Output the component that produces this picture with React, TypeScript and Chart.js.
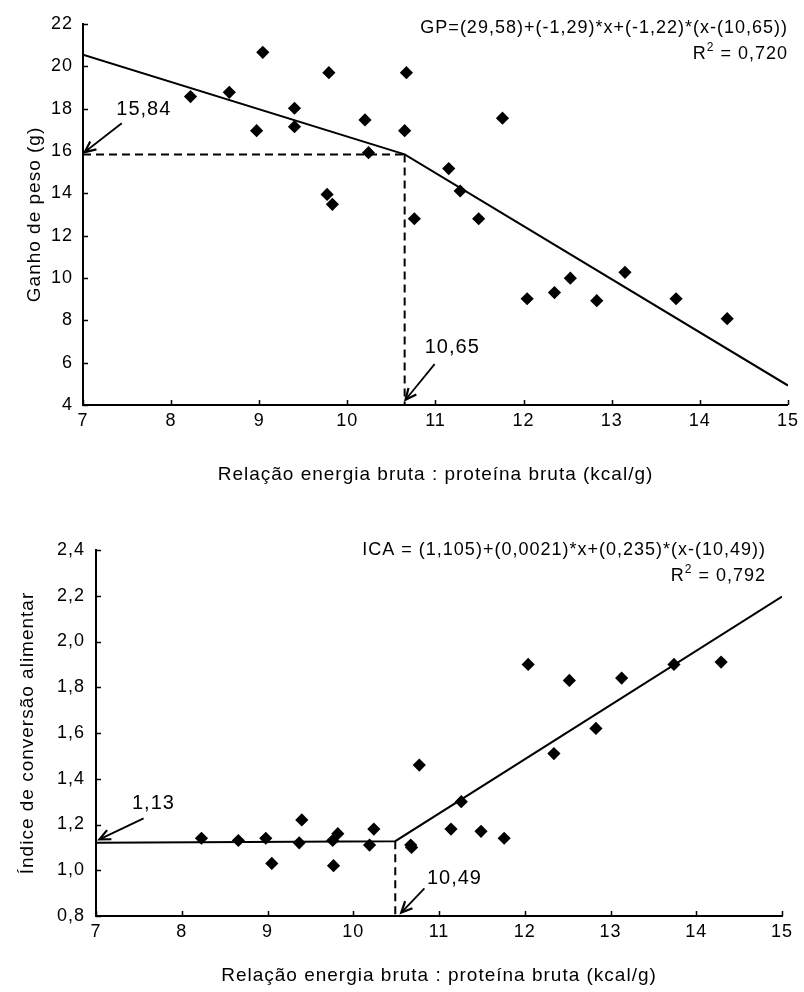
import React, { useEffect, useRef } from 'react';
import { Chart, registerables } from 'chart.js';

Chart.register(...registerables);

const FONT = "'Liberation Sans', Arial, sans-serif";
const LS = '1px';

// ---------- Top chart: Ganho de peso ----------
const gpX = [8.22, 8.66, 9.04, 8.97, 9.4, 9.4, 9.79, 9.77, 9.83, 10.2, 10.24, 10.67, 10.65, 11.76, 11.15, 11.28, 10.76, 11.49, 12.04, 12.35, 12.53, 12.83, 13.15, 13.73, 14.31];
const gpY = [18.57, 18.77, 20.66, 16.96, 18.02, 17.15, 19.7, 13.95, 13.48, 17.47, 15.92, 19.7, 16.96, 17.55, 15.17, 14.11, 12.8, 12.8, 9.02, 9.31, 9.99, 8.93, 10.27, 9.02, 8.08];
const gpFitX = [7, 10.65, 15];
const gpFitY = [20.55, 15.84, 4.92];
const gpBreakX = 10.65;
const gpBreakY = 15.84;
const gpYMin = 4;
const gpYMax = 22;
const gpYStep = 2;
const gpEquation = 'GP=(29,58)+(-1,29)*x+(-1,22)*(x-(10,65))';
const gpR2 = '0,720';
const gpYTitle = 'Ganho de peso (g)';

// ---------- Bottom chart: Índice de conversão alimentar ----------
const icaX = [8.23, 8.66, 8.98, 9.05, 9.4, 9.37, 9.76, 9.82, 9.77, 10.24, 10.19, 10.67, 10.68, 10.77, 11.14, 11.26, 11.49, 11.76, 12.04, 12.34, 12.52, 12.83, 13.13, 13.74, 14.29];
const icaY = [1.14, 1.13, 1.14, 1.03, 1.22, 1.12, 1.13, 1.16, 1.02, 1.18, 1.11, 1.11, 1.1, 1.46, 1.18, 1.3, 1.17, 1.14, 1.9, 1.51, 1.83, 1.62, 1.84, 1.9, 1.91];
const icaFitX = [7, 10.49, 15];
const icaFitY = [1.12, 1.127, 2.196];
const icaBreakX = 10.49;
const icaBreakY = 1.127;
const icaYMin = 0.8;
const icaYMax = 2.4;
const icaYStep = 0.2;
const icaEquation = 'ICA = (1,105)+(0,0021)*x+(0,235)*(x-(10,49))';
const icaR2 = '0,792';
const icaYTitle = 'Índice de conversão alimentar';

// ---------- shared x axis ----------
const xMin = 7;
const xMax = 15;
const xStep = 1;
const xTitle = 'Relação energia bruta : proteína bruta (kcal/g)';

const fmtComma = (v: number, d: number) => v.toFixed(d).replace('.', ',');

const decorPlugin = {
  id: 'decor',
  beforeUpdate(chart: any) {
    chart.ctx.letterSpacing = LS;
  },
  beforeDraw(chart: any) {
    chart.ctx.letterSpacing = LS;
  },
  afterDraw(chart: any, _args: any, opts: any) {
    const { ctx, chartArea } = chart;
    const xs = chart.scales.x;
    const ys = chart.scales.y;
    ctx.save();
    ctx.letterSpacing = LS;
    ctx.strokeStyle = '#000';
    ctx.fillStyle = '#000';
    ctx.setLineDash([]);
    // inward tick marks
    ctx.lineWidth = 1.5;
    ctx.beginPath();
    xs.ticks.forEach((t: any) => {
      const px = Math.round(xs.getPixelForValue(t.value)) + 0.5;
      ctx.moveTo(px, chartArea.bottom);
      ctx.lineTo(px, chartArea.bottom - 5);
    });
    ys.ticks.forEach((t: any) => {
      const py = Math.round(ys.getPixelForValue(t.value)) + 0.5;
      ctx.moveTo(chartArea.left, py);
      ctx.lineTo(chartArea.left + 5, py);
    });
    ctx.stroke();

    // arrows
    (opts.arrows || []).forEach((a: any) => {
      const x1 = xs.getPixelForValue(a.from[0]);
      const y1 = ys.getPixelForValue(a.from[1]);
      const x2 = xs.getPixelForValue(a.to[0]);
      const y2 = ys.getPixelForValue(a.to[1]);
      const ang = Math.atan2(y2 - y1, x2 - x1);
      const L = 12;
      const th = (25 * Math.PI) / 180;
      ctx.lineWidth = 1.8;
      ctx.beginPath();
      ctx.moveTo(x1, y1);
      ctx.lineTo(x2, y2);
      ctx.stroke();
      ctx.lineWidth = 2.2;
      ctx.beginPath();
      ctx.moveTo(x2 - L * Math.cos(ang - th), y2 - L * Math.sin(ang - th));
      ctx.lineTo(x2, y2);
      ctx.lineTo(x2 - L * Math.cos(ang + th), y2 - L * Math.sin(ang + th));
      ctx.stroke();
    });

    // annotation labels
    ctx.font = `20px ${FONT}`;
    ctx.textAlign = 'center';
    ctx.textBaseline = 'middle';
    (opts.labels || []).forEach((l: any) => {
      ctx.fillText(l.text, xs.getPixelForValue(l.x), ys.getPixelForValue(l.y));
    });

    // equation + R²
    if (opts.equation) {
      const right = chartArea.right + opts.eqDx;
      ctx.font = `18px ${FONT}`;
      ctx.textAlign = 'right';
      ctx.fillText(opts.equation, right, chartArea.top + opts.eqDy1);
      const rest = ' = ' + opts.r2;
      const wRest = ctx.measureText(rest).width;
      const wR = ctx.measureText('R').width;
      ctx.font = `12px ${FONT}`;
      const w2 = ctx.measureText('2').width;
      const y2 = chartArea.top + opts.eqDy2;
      let x = right - wRest - w2 - wR;
      ctx.textAlign = 'left';
      ctx.font = `18px ${FONT}`;
      ctx.fillText('R', x, y2);
      x += wR;
      ctx.font = `12px ${FONT}`;
      ctx.fillText('2', x, y2 - 6);
      x += w2;
      ctx.font = `18px ${FONT}`;
      ctx.fillText(rest, x, y2);
    }
    ctx.restore();
  },
};

function buildConfig(p: any) {
  const pts = p.xs.map((x: number, i: number) => ({ x, y: p.ys[i] }));
  const fit = p.fitX.map((x: number, i: number) => ({ x, y: p.fitY[i] }));
  const dashed: any[] = [];
  if (p.hDash) {
    dashed.push({
      data: [
        { x: xMin, y: p.breakY },
        { x: p.breakX, y: p.breakY },
      ],
    });
  }
  dashed.push({
    data: [
      { x: p.breakX, y: p.breakY },
      { x: p.breakX, y: p.yMin },
    ],
  });
  return {
    type: 'scatter',
    data: {
      datasets: [
        {
          data: pts,
          pointStyle: 'rectRot',
          pointRadius: 6.6,
          pointBackgroundColor: '#000',
          pointBorderWidth: 0,
          showLine: false,
          order: 0,
        },
        {
          data: fit,
          showLine: true,
          borderColor: '#000',
          borderWidth: 2,
          pointRadius: 0,
          order: 1,
        },
        ...dashed.map((d) => ({
          data: d.data,
          showLine: true,
          borderColor: '#000',
          borderWidth: 2,
          borderDash: [8, 5],
          pointRadius: 0,
          order: 2,
        })),
      ],
    },
    options: {
      responsive: false,
      devicePixelRatio: 1,
      animation: false,
      events: [],
      layout: { padding: p.padding },
      plugins: {
        legend: { display: false },
        tooltip: { enabled: false },
        decor: {
          arrows: p.arrows,
          labels: p.labels,
          equation: p.equation,
          r2: p.r2,
          eqDx: p.eqDx,
          eqDy1: p.eqDy1,
          eqDy2: p.eqDy2,
        },
      },
      scales: {
        x: {
          type: 'linear',
          min: xMin,
          max: xMax,
          grid: { display: false, drawTicks: false },
          border: { display: true, color: '#000', width: 2 },
          ticks: {
            stepSize: xStep,
            color: '#000',
            padding: 5,
            font: { family: FONT, size: 18 },
            callback: (v: number) => String(v),
          },
          title: {
            display: true,
            text: xTitle,
            color: '#000',
            font: { family: FONT, size: 19 },
            padding: { top: 0, bottom: p.xTitlePad },
          },
          afterFit: (s: any) => {
            s.height = p.xAxisH;
          },
        },
        y: {
          type: 'linear',
          min: p.yMin,
          max: p.yMax,
          grid: { display: false, drawTicks: false },
          border: { display: true, color: '#000', width: 2 },
          ticks: {
            stepSize: p.yStep,
            color: '#000',
            padding: p.yTickPad,
            font: { family: FONT, size: 18 },
            callback: (v: number) => fmtComma(v, p.yDec),
          },
          title: {
            display: true,
            text: p.yTitle,
            color: '#000',
            font: { family: FONT, size: 19 },
            padding: { top: p.yTitlePad, bottom: 0 },
          },
          afterFit: (s: any) => {
            s.width = p.yAxisW;
          },
        },
      },
    },
    plugins: [decorPlugin],
  };
}

const topParams = {
  xs: gpX,
  ys: gpY,
  fitX: gpFitX,
  fitY: gpFitY,
  breakX: gpBreakX,
  breakY: gpBreakY,
  hDash: true,
  yMin: gpYMin,
  yMax: gpYMax,
  yStep: gpYStep,
  yDec: 0,
  yTitle: gpYTitle,
  equation: gpEquation,
  r2: gpR2,
  eqDx: 0,
  eqDy1: 4,
  eqDy2: 30,
  padding: { left: 0, right: 15, top: 24, bottom: 0 },
  xAxisH: 90,
  yAxisW: 83,
  xTitlePad: 9,
  yTitlePad: 23,
  yTickPad: 10,
  arrows: [
    { from: [7.44, 17.31], to: [7.02, 15.95] },
    { from: [10.99, 5.93], to: [10.66, 4.25] },
  ],
  labels: [
    { text: fmtComma(gpBreakY, 2), x: 7.69, y: 17.98 },
    { text: fmtComma(gpBreakX, 2), x: 11.19, y: 6.74 },
  ],
};

const bottomParams = {
  xs: icaX,
  ys: icaY,
  fitX: icaFitX,
  fitY: icaFitY,
  breakX: icaBreakX,
  breakY: icaBreakY,
  hDash: false,
  yMin: icaYMin,
  yMax: icaYMax,
  yStep: icaYStep,
  yDec: 1,
  yTitle: icaYTitle,
  equation: icaEquation,
  r2: icaR2,
  eqDx: -16,
  eqDy1: 0,
  eqDy2: 26,
  padding: { left: 0, right: 22, top: 55, bottom: 0 },
  xAxisH: 76,
  yAxisW: 96,
  xTitlePad: 5,
  yTitlePad: 16,
  yTickPad: 11,
  arrows: [
    { from: [7.555, 1.227], to: [7.04, 1.135] },
    { from: [10.83, 0.921], to: [10.56, 0.815] },
  ],
  labels: [
    { text: '1,13', x: 7.67, y: 1.29 },
    { text: fmtComma(icaBreakX, 2), x: 11.18, y: 0.962 },
  ],
};

function ChartCanvas({ params, top, height }: { params: any; top: number; height: number }) {
  const ref = useRef<HTMLCanvasElement | null>(null);
  useEffect(() => {
    if (!ref.current) return;
    const chart = new Chart(ref.current, buildConfig(params) as any);
    return () => chart.destroy();
  }, [params]);
  return (
    <canvas
      ref={ref}
      width={804}
      height={height}
      style={{ position: 'absolute', left: 0, top, width: 804, height }}
    />
  );
}

export default function App() {
  return (
    <div style={{ position: 'absolute', left: 0, top: 0, width: 804, height: 992, background: '#fff', overflow: 'hidden' }}>
      <ChartCanvas params={topParams} top={0} height={495} />
      <ChartCanvas params={bottomParams} top={495} height={497} />
    </div>
  );
}
